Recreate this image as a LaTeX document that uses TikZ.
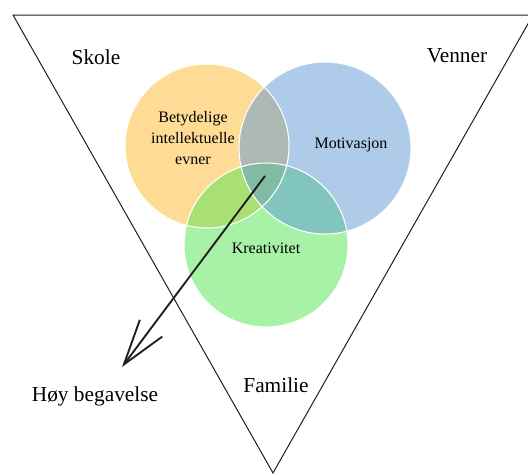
\documentclass[tikz,border=0pt]{standalone}
\usepackage{fontspec}
\setmainfont{Liberation Serif}
\usetikzlibrary{arrows.meta}
\definecolor{cyel}{RGB}{255,185,45}
\definecolor{cblu}{RGB}{93,151,213}
\definecolor{cgrn}{RGB}{81,229,81}
\definecolor{cline}{RGB}{30,30,30}
\tikzset{
  outer/.style={font=\fontsize{16}{19}\selectfont, text=black},
  inner/.style={font=\fontsize{12}{15.5}\selectfont, text=black, align=center},
  frame/.style={draw=cline, line width=0.75pt},
  vennline/.style={draw=white, line width=0.8pt},
}
\begin{document}
\begin{tikzpicture}[x=0.75pt,y=-0.75pt]
\useasboundingbox (0,0) rectangle (528,475);
\clip (0,0) rectangle (528,475);
% triangle
\coordinate (tl) at (13,15);
\coordinate (tr) at (533,15);
\coordinate (ap) at (273,473);
\draw[frame, line join=miter] (tl) -- (tr) -- (ap) -- cycle;
% circles
\fill[cyel, fill opacity=0.5] (207,146) circle (82);
\fill[cgrn, fill opacity=0.5] (266,245) circle (82);
\fill[cblu, fill opacity=0.5] (325,148) circle (86);
\draw[vennline] (207,146) circle (82);
\draw[vennline] (266,245) circle (82);
\draw[vennline] (325,148) circle (86);
% labels
\node[outer] (skole) at (96,57) {Skole};
\node[outer] (venner) at (457,56) {Venner};
\node[outer] (familie) at (276,385) {Familie};
\node[outer] (hoy) at (95,396) {Høy begavelse};
\node[inner] (evner) at (193,138) {Betydelige\\intellektuelle\\evner};
\node[inner] (motiv) at (351,145) {Motivasjon};
\node[inner] (krea) at (266,248) {Kreativitet};
% arrow
\coordinate (astart) at (265,176);
\coordinate (aend) at (122,367);
\draw[cline, line width=1.4pt, -{Straight Barb[length=34pt,width=21pt,line width=1.4pt]}] (astart) -- (aend);
\end{tikzpicture}
\end{document}
